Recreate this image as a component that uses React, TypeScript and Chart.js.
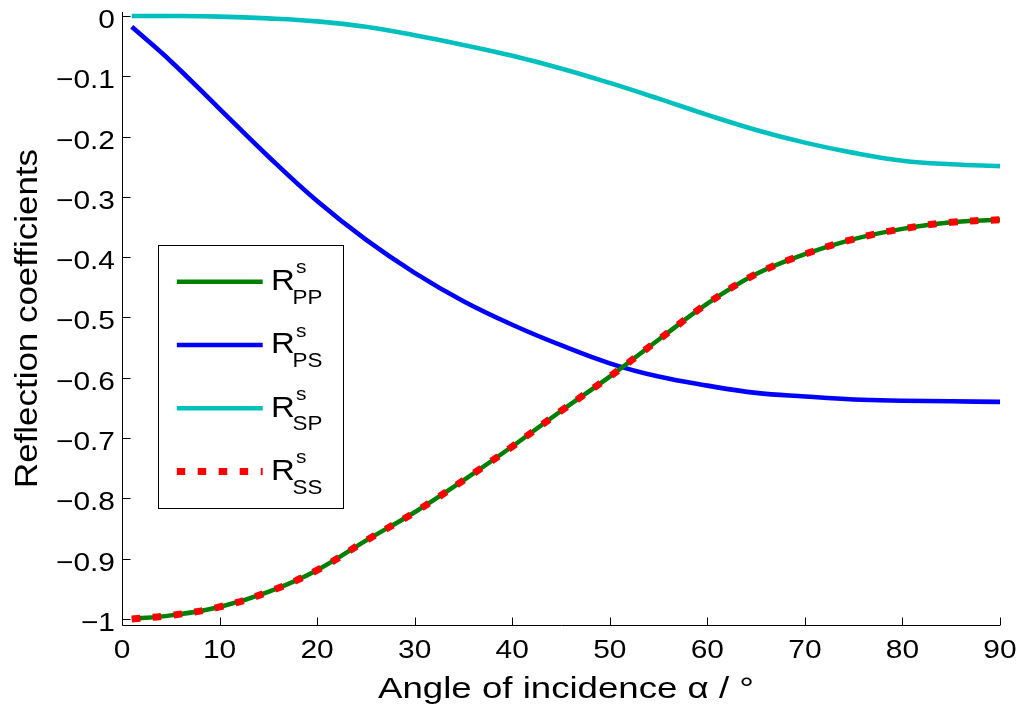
import { useEffect, useRef } from 'react';
import { Chart, registerables } from 'chart.js';

Chart.register(...registerables);

// Angle of incidence (degrees) and the four reflection coefficients
const angles = [1, 5, 10, 15, 20, 25, 30, 35, 40, 45, 50, 55, 60, 65, 70, 75, 80, 85, 90];
const rPP = [-1.0, -0.994, -0.98, -0.955, -0.919, -0.87, -0.823, -0.77, -0.714, -0.655, -0.598, -0.537, -0.477, -0.428, -0.395, -0.37, -0.353, -0.342, -0.338];
const rPS = [-0.018, -0.075, -0.154, -0.233, -0.307, -0.371, -0.426, -0.473, -0.512, -0.546, -0.576, -0.598, -0.613, -0.625, -0.631, -0.636, -0.638, -0.639, -0.64];
const rSP = [0, 0, -0.001, -0.004, -0.009, -0.018, -0.032, -0.048, -0.066, -0.087, -0.111, -0.137, -0.164, -0.189, -0.21, -0.227, -0.24, -0.246, -0.249];
const rSS = [-1.0, -0.994, -0.98, -0.955, -0.919, -0.87, -0.823, -0.77, -0.714, -0.655, -0.598, -0.537, -0.477, -0.428, -0.395, -0.37, -0.353, -0.342, -0.338];

const seriesSubscripts = ['PP', 'PS', 'SP', 'SS'];
const seriesSuperscript = 's';

const xTickValues = [0, 10, 20, 30, 40, 50, 60, 70, 80, 90];
const xTickLabels = ['0', '10', '20', '30', '40', '50', '60', '70', '80', '90'];
const yTickValues = [0, -0.1, -0.2, -0.3, -0.4, -0.5, -0.6, -0.7, -0.8, -0.9, -1];
const yTickLabels = ['0', '\u22120.1', '\u22120.2', '\u22120.3', '\u22120.4', '\u22120.5', '\u22120.6', '\u22120.7', '\u22120.8', '\u22120.9', '\u22121'];

const xTitle = 'Angle of incidence \u03b1 / \u00b0';
const yTitle = 'Reflection coefficients';

const FONT = '"Liberation Sans", Arial, Helvetica, sans-serif';

const toPoints = (ys: number[]) => angles.map((x, i) => ({ x, y: ys[i] }));

// Text drawn with a horizontal stretch (the figure's typeface is wide)
function wideText(
  ctx: CanvasRenderingContext2D,
  text: string,
  x: number,
  y: number,
  size: number,
  sx: number,
  align: CanvasTextAlign,
) {
  ctx.save();
  ctx.font = `${size}px ${FONT}`;
  ctx.textAlign = align;
  ctx.textBaseline = 'alphabetic';
  ctx.fillStyle = '#000';
  ctx.translate(x, y);
  ctx.scale(sx, 1);
  ctx.fillText(text, 0, 0);
  ctx.restore();
}

const axesPlugin = {
  id: 'plainAxes',
  afterDraw(chart: any) {
    const ctx: CanvasRenderingContext2D = chart.ctx;
    const area = chart.chartArea;
    const xs = chart.scales.x;
    const ys = chart.scales.y;
    const left = Math.round(area.left) + 0.5;
    const bottom = Math.round(area.bottom) + 0.5;

    ctx.save();
    ctx.strokeStyle = '#000';
    ctx.lineWidth = 1;
    ctx.beginPath();
    // axis lines (left and bottom only)
    ctx.moveTo(left, area.top);
    ctx.lineTo(left, bottom);
    ctx.lineTo(area.right, bottom);
    // inward tick marks
    xTickValues.forEach((v) => {
      const px = Math.round(xs.getPixelForValue(v)) + 0.5;
      ctx.moveTo(px, bottom);
      ctx.lineTo(px, bottom - 8);
    });
    yTickValues.forEach((v) => {
      const py = Math.round(ys.getPixelForValue(v)) + 0.5;
      ctx.moveTo(left, py);
      ctx.lineTo(left + 8, py);
    });
    ctx.stroke();
    ctx.restore();

    // tick labels
    xTickValues.forEach((v, i) => {
      wideText(ctx, xTickLabels[i], xs.getPixelForValue(v), area.bottom + 33, 26, 1.15, 'center');
    });
    yTickValues.forEach((v, i) => {
      wideText(ctx, yTickLabels[i], area.left - 7, ys.getPixelForValue(v) + 12, 26, 1.15, 'right');
    });

    // axis titles
    ctx.save();
    ctx.font = `30px ${FONT}`;
    const xw = ctx.measureText(xTitle).width;
    ctx.font = `31px ${FONT}`;
    const yw = ctx.measureText(yTitle).width;
    ctx.restore();
    wideText(ctx, xTitle, (area.left + area.right) / 2 + 5, 698, 30, 376 / xw, 'center');

    ctx.save();
    ctx.translate(37, (area.top + area.bottom) / 2);
    ctx.rotate(-Math.PI / 2);
    wideText(ctx, yTitle, 0, 0, 31, 339 / yw, 'center');
    ctx.restore();

    // legend box
    const box = { x: 158.5, y: 245.5, w: 185, h: 263 };
    ctx.save();
    ctx.fillStyle = '#fff';
    ctx.strokeStyle = '#000';
    ctx.lineWidth = 1;
    ctx.fillRect(box.x, box.y, box.w, box.h);
    ctx.strokeRect(box.x, box.y, box.w, box.h);
    ctx.restore();

    // legend rows in PP, PS, SP, SS order (dataset indices)
    const legendOrder = [2, 0, 1, 3];
    legendOrder.forEach((dsIndex, row) => {
      const ds = chart.data.datasets[dsIndex];
      const cy = 281.7 + row * 63.3;
      ctx.save();
      ctx.beginPath();
      ctx.rect(box.x + 18, cy - 10, 86.5, 20);
      ctx.clip();
      ctx.strokeStyle = ds.borderColor;
      ctx.lineWidth = ds.borderWidth;
      ctx.setLineDash(ds.borderDash || []);
      ctx.beginPath();
      ctx.moveTo(176.7, cy);
      ctx.lineTo(262.7, cy);
      ctx.stroke();
      ctx.restore();
      wideText(ctx, 'R', 271, cy + 8.3, 30, 1.1, 'left');
      wideText(ctx, seriesSuperscript, 296, cy - 8.4, 19, 1.1, 'left');
      wideText(ctx, seriesSubscripts[row], 292.5, cy + 22, 20, 1.12, 'left');
    });
  },
};

export default function App() {
  const canvasRef = useRef<HTMLCanvasElement | null>(null);

  useEffect(() => {
    if (!canvasRef.current) return;
    const common = { pointRadius: 0, fill: false, tension: 0.4 };
    const chart = new Chart(canvasRef.current, {
      type: 'line',
      data: {
        datasets: [
          { ...common, label: 'R_PS', data: toPoints(rPS), borderColor: '#0000ff', borderWidth: 4.6, order: 4 },
          { ...common, label: 'R_SP', data: toPoints(rSP), borderColor: '#00bfbf', borderWidth: 4.6, order: 3 },
          { ...common, label: 'R_PP', data: toPoints(rPP), borderColor: '#007f00', borderWidth: 4.5, order: 2 },
          { ...common, label: 'R_SS', data: toPoints(rSS), borderColor: '#ff0000', borderWidth: 7, borderDash: [8.5, 12.5], order: 1 },
        ],
      },
      options: {
        animation: false,
        responsive: false,
        devicePixelRatio: 1,
        layout: { padding: { top: 12, right: 20, left: 0, bottom: 0 } },
        plugins: { legend: { display: false }, tooltip: { enabled: false } },
        scales: {
          x: {
            type: 'linear',
            min: 0,
            max: 90,
            grid: { display: false },
            border: { display: false },
            ticks: { display: false },
            afterBuildTicks: (s: any) => {
              s.ticks = xTickValues.map((value) => ({ value }));
            },
            afterFit: (s: any) => {
              s.height = 81;
            },
          },
          y: {
            type: 'linear',
            min: -1.00995,
            max: 0.0066,
            grid: { display: false },
            border: { display: false },
            ticks: { display: false },
            afterBuildTicks: (s: any) => {
              s.ticks = yTickValues.map((value) => ({ value }));
            },
            afterFit: (s: any) => {
              s.width = 122;
            },
          },
        },
      },
      plugins: [axesPlugin],
    });
    return () => chart.destroy();
  }, []);

  return (
    <div style={{ position: 'absolute', left: 0, top: 0, width: 1020, height: 706, background: '#fff' }}>
      <canvas ref={canvasRef} width={1020} height={706} />
    </div>
  );
}
